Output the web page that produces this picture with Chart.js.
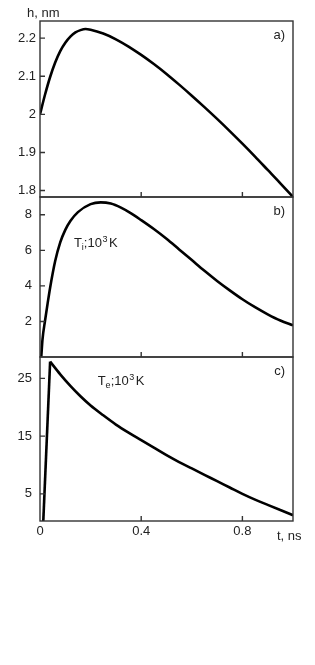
<!DOCTYPE html>
<html>
<head>
<meta charset="utf-8">
<script src="https://cdn.jsdelivr.net/npm/chart.js@4.4.1/dist/chart.umd.min.js"></script>
<style>
html, body { margin: 0; padding: 0; background: #fff; }
#wrap { position: relative; width: 315px; height: 665px; }
#wrap canvas { position: absolute; left: 0; top: 0; }
</style>
</head>
<body>
<div id="wrap">
  <canvas id="chartA" width="315" height="665"></canvas>
  <canvas id="chartB" width="315" height="665"></canvas>
  <canvas id="chartC" width="315" height="665"></canvas>
</div>
<script>
// a) thickness h, nm
const tH = [0, 0.02, 0.04, 0.06, 0.08, 0.1, 0.12, 0.14, 0.16, 0.18, 0.2, 0.25, 0.3, 0.35, 0.4, 0.45, 0.5, 0.55, 0.6, 0.65, 0.7, 0.75, 0.8, 0.85, 0.9, 0.95, 1.0];
const hVals = [2.0, 2.052, 2.098, 2.136, 2.166, 2.188, 2.204, 2.215, 2.221, 2.224, 2.222, 2.212, 2.197, 2.178, 2.156, 2.132, 2.106, 2.078, 2.049, 2.019, 1.988, 1.956, 1.923, 1.889, 1.854, 1.819, 1.783];

// b) ion temperature Ti, 10^3 K
const tI = [0.005, 0.01, 0.02, 0.03, 0.04, 0.06, 0.08, 0.1, 0.12, 0.15, 0.2, 0.24, 0.28, 0.32, 0.36, 0.4, 0.45, 0.5, 0.55, 0.6, 0.65, 0.7, 0.75, 0.8, 0.85, 0.9, 0.95, 1.0];
const tiVals = [0, 1.0, 2.05, 3.0, 3.9, 5.4, 6.45, 7.15, 7.65, 8.15, 8.6, 8.7, 8.63, 8.4, 8.08, 7.7, 7.2, 6.65, 6.05, 5.45, 4.85, 4.28, 3.75, 3.25, 2.8, 2.4, 2.05, 1.78];

// c) electron temperature Te, 10^3 K (sharp rise, then smooth decay)
const tE = [0.013, 0.04, 0.08, 0.12, 0.16, 0.2, 0.25, 0.3, 0.35, 0.4, 0.45, 0.5, 0.55, 0.6, 0.65, 0.7, 0.75, 0.8, 0.85, 0.9, 0.95, 1.0];
const teVals = [0.3, 27.9, 25.7, 23.7, 21.9, 20.3, 18.6, 17.0, 15.6, 14.3, 13.0, 11.7, 10.5, 9.4, 8.3, 7.2, 6.1, 5.0, 4.0, 3.1, 2.2, 1.3];
const tePeak = 1; // index of the maximum

const xTicks = [0, 0.4, 0.8];
const hTicks = [1.8, 1.9, 2, 2.1, 2.2];
const tiTicks = [2, 4, 6, 8];
const teTicks = [5, 15, 25];

const ink = '#222';
const fam = '"Liberation Sans", Arial, sans-serif';

function toPoints(xs, ys) {
    return xs.map((x, i) => ({ x: x, y: ys[i] }));
}

function curve(points, smooth) {
    return {
        data: points,
        borderColor: '#000',
        borderWidth: 2.6,
        pointRadius: 0,
        fill: false,
        tension: smooth ? 0.4 : 0,
        cubicInterpolationMode: smooth ? 'monotone' : 'default'
    };
}

// T_sub;10^3 K
function tempLabel(ctx, x, y, sub) {
    const big = '13px ' + fam;
    const small = '9px ' + fam;
    ctx.textAlign = 'left';
    ctx.textBaseline = 'alphabetic';
    ctx.font = big; ctx.fillText('T', x, y); x += ctx.measureText('T').width;
    ctx.font = small; ctx.fillText(sub, x, y + 3); x += ctx.measureText(sub).width;
    ctx.font = big; ctx.fillText(';10', x, y); x += ctx.measureText(';10').width + 0.5;
    ctx.font = small; ctx.fillText('3', x, y - 5); x += ctx.measureText('3').width + 1.5;
    ctx.font = big; ctx.fillText('K', x, y);
}

// box round the plot, inward ticks, panel letter and extra text
const framePlugin = {
    id: 'frame',
    afterDraw(chart, args, opts) {
        const ctx = chart.ctx;
        const a = chart.chartArea;
        const xs = chart.scales.x;
        const ys = chart.scales.y;
        ctx.save();
        ctx.strokeStyle = '#333';
        ctx.lineWidth = 1.4;
        ctx.strokeRect(a.left, a.top, a.right - a.left, a.bottom - a.top);
        ctx.beginPath();
        xTicks.forEach(v => {
            if (v <= xs.min) return;
            const px = xs.getPixelForValue(v);
            ctx.moveTo(px, a.bottom);
            ctx.lineTo(px, a.bottom - 5);
        });
        ys.ticks.forEach(t => {
            const py = ys.getPixelForValue(t.value);
            ctx.moveTo(a.left, py);
            ctx.lineTo(a.left + 5, py);
        });
        ctx.stroke();

        ctx.fillStyle = ink;
        ctx.font = '13px ' + fam;
        ctx.textAlign = 'right';
        ctx.textBaseline = 'middle';
        ctx.fillText(opts.tag, a.right - 8, a.top + 14);
        if (opts.extra) opts.extra(ctx, chart);
        ctx.restore();
    }
};

function makeChart(id, datasets, yMin, yMax, yTicks, opt) {
    return new Chart(document.getElementById(id), {
        type: 'line',
        data: { datasets: datasets },
        options: {
            responsive: false,
            animation: false,
            events: [],
            layout: { padding: opt.padding },
            plugins: {
                legend: { display: false },
                tooltip: { enabled: false },
                frame: { tag: opt.tag, extra: opt.extra }
            },
            scales: {
                x: {
                    type: 'linear',
                    min: 0,
                    max: 1,
                    display: !!opt.showX,
                    grid: { display: false, drawTicks: false },
                    border: { display: false },
                    afterBuildTicks: s => { s.ticks = xTicks.map(v => ({ value: v })); },
                    afterFit: s => { s.height = opt.showX ? 30 : 0; },
                    ticks: {
                        color: ink,
                        font: { family: fam, size: 13 },
                        padding: 3,
                        maxRotation: 0,
                        autoSkip: false,
                        callback: v => String(v)
                    }
                },
                y: {
                    type: 'linear',
                    min: yMin,
                    max: yMax,
                    grid: { display: false, drawTicks: false },
                    border: { display: false },
                    afterBuildTicks: s => { s.ticks = yTicks.map(v => ({ value: v })); },
                    afterFit: s => { s.width = 40; },
                    ticks: {
                        color: ink,
                        font: { family: fam, size: 13 },
                        padding: opt.yPad,
                        autoSkip: false,
                        callback: v => String(v)
                    }
                }
            }
        },
        plugins: [framePlugin]
    });
}

makeChart('chartA', [curve(toPoints(tH, hVals), true)], 1.783, 2.245, hTicks, {
    tag: 'a)',
    yPad: 4,
    padding: { top: 21, right: 22, bottom: 468, left: 0 },
    extra: (ctx, chart) => {
        const a = chart.chartArea;
        ctx.textAlign = 'left';
        ctx.fillText('h, nm', a.left - 13, a.top - 8);
    }
});

makeChart('chartB', [curve(toPoints(tI, tiVals), true)], 0, 9, tiTicks, {
    tag: 'b)',
    yPad: 8,
    padding: { top: 197, right: 22, bottom: 308, left: 0 },
    extra: (ctx, chart) => {
        const s = chart.scales;
        tempLabel(ctx, s.x.getPixelForValue(0.134), s.y.getPixelForValue(6.21), 'i');
    }
});

const tePts = toPoints(tE, teVals);
makeChart('chartC', [
    curve(tePts.slice(0, tePeak + 1), false),
    curve(tePts.slice(tePeak), true)
], 0.3, 28.7, teTicks, {
    tag: 'c)',
    yPad: 8,
    showX: true,
    padding: { top: 357, right: 22, bottom: 114, left: 0 },
    extra: (ctx, chart) => {
        const s = chart.scales;
        const a = chart.chartArea;
        tempLabel(ctx, s.x.getPixelForValue(0.228), s.y.getPixelForValue(23.9), 'e');
        ctx.font = '13px ' + fam;
        ctx.textAlign = 'left';
        ctx.textBaseline = 'middle';
        ctx.fillText('t, ns', a.right - 16, a.bottom + 15);
    }
});
</script>
</body>
</html>
